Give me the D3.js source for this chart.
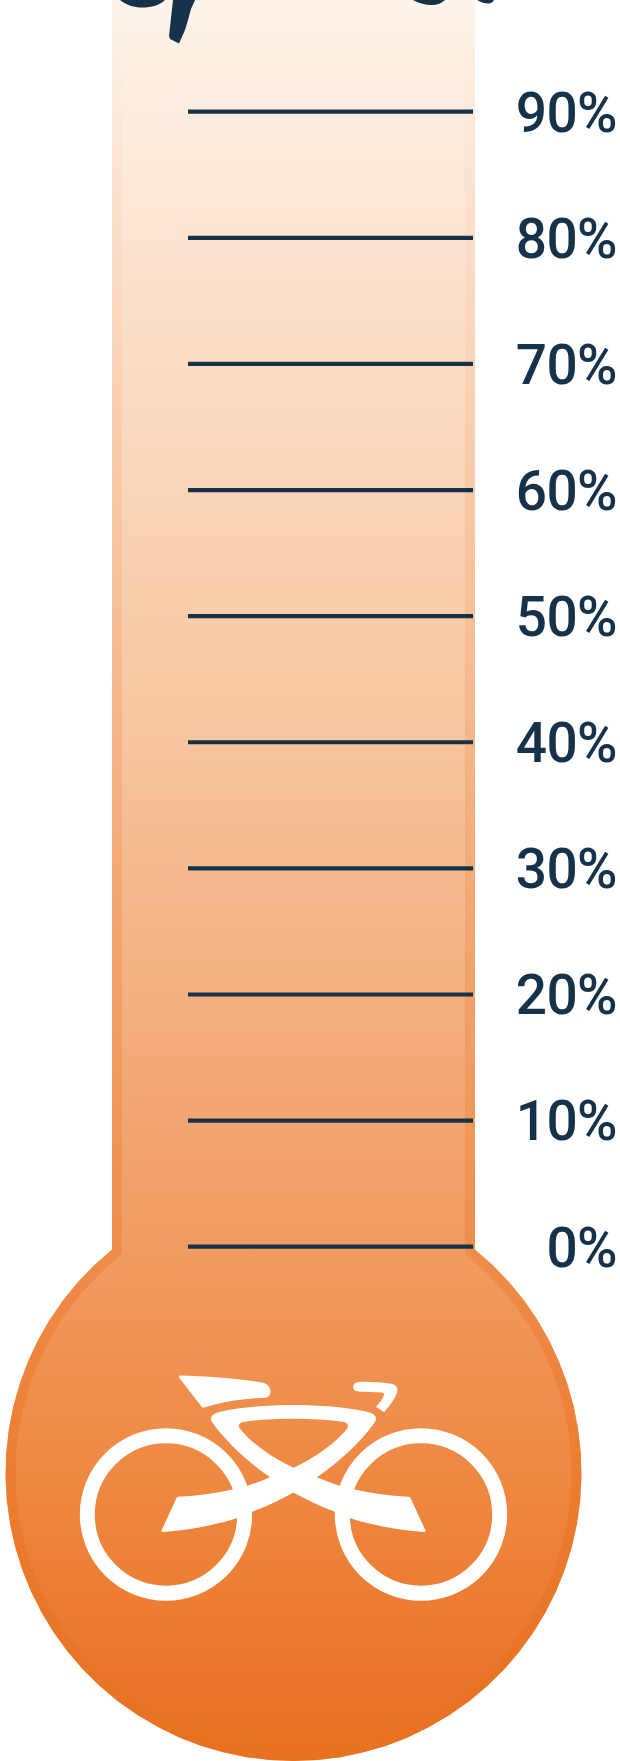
<!DOCTYPE html>
<html>
<head>
<meta charset="utf-8">
<script src="https://cdnjs.cloudflare.com/ajax/libs/d3/7.8.5/d3.min.js"></script>
<style>
  html, body { margin: 0; padding: 0; background: #fff; }
  svg { display: block; }
  .scale text { font-family: Roboto, sans-serif; font-size: 55px; font-weight: 500; letter-spacing: -0.6px; fill: #16324a; }
</style>
</head>
<body>
<div id="chart"></div>
<script>
var width = 620, height = 1761;

// percentage scale printed next to the tube
var tickValues = [0, 10, 20, 30, 40, 50, 60, 70, 80, 90];

// fill of the thermometer, top to bottom
var fillOffsets = [0, 0.17, 0.38, 0.57, 0.73, 0.86, 0.96, 1];
var fillColors = ["#fef4ea", "#fce0cb", "#f8caa6", "#f4af7f", "#f1985d", "#ee853c", "#ea7429", "#e8701f"];

// darker rim, fades out towards the top
var rimOffsets = [0, 0.17, 0.68, 0.85, 1];
var rimOpacity = [0, 0.07, 0.3, 0.5, 0.5];

var ink = "#16324a";

var tubeLeft = 112, tubeRight = 475,
  bulbX = (tubeLeft + tubeRight) / 2, bulbY = 1473, bulbR = 288,
  bulbSteps = 60;

var svg = d3.select("#chart").append("svg")
  .attr("width", width)
  .attr("height", height);

var y = d3.scaleLinear().domain([0, 90]).range([1246.2, 111.2]);

var defs = svg.append("defs");

var addGradient = function (id, offsets, stopper) {
  var g = defs.append("linearGradient")
    .attr("id", id)
    .attr("gradientUnits", "userSpaceOnUse")
    .attr("x1", 0).attr("y1", 0)
    .attr("x2", 0).attr("y2", height);
  offsets.forEach(function (o, i) {
    stopper(g.append("stop").attr("offset", o), i);
  });
};

addGradient("thermoFill", fillOffsets, function (s, i) {
  s.attr("stop-color", fillColors[i]);
});
addGradient("thermoRim", rimOffsets, function (s, i) {
  s.attr("stop-color", "#e8721f").attr("stop-opacity", rimOpacity[i]);
});

// outline: straight tube plus a slightly faceted bulb
var half = bulbX - tubeLeft,
  startAngle = Math.asin(half / bulbR),
  outline = [[tubeLeft, -20]];
d3.range(bulbSteps + 1).forEach(function (i) {
  var a = startAngle + (2 * Math.PI - 2 * startAngle) * i / bulbSteps;
  // a runs from the left junction, round the bottom, to the right one
  outline.push([bulbX - bulbR * Math.sin(a), bulbY - bulbR * Math.cos(a)]);
});
outline.push([tubeRight, -20]);

var outlinePath = d3.line()(outline) + "Z";

defs.append("clipPath").attr("id", "thermoClip")
  .append("path").attr("d", outlinePath);

svg.append("path")
  .attr("d", outlinePath)
  .attr("fill", "url(#thermoFill)");

svg.append("path")
  .attr("d", outlinePath)
  .attr("fill", "none")
  .attr("stroke", "url(#thermoRim)")
  .attr("stroke-width", 20)
  .attr("clip-path", "url(#thermoClip)");

// bottoms of the hand lettered title, cut off by the top of the picture
var titleBits = [
  "M120 0 C126 5 134 7.5 142 7.5 C152 7.5 160 5 165 0 Z",
  "M173 0 L195 0 L191 9 L188 20 L185 30 L179 43.5 L170 39 L169 36 Z",
  "M413 0 C419 3.5 426 5 431 5 C437 5 442 3 445 0 Z",
  "M477 0 C481 2.5 485 3.5 488 3.5 C491 3.5 493 2 494 0 Z"
];
svg.append("g").selectAll("path")
  .data(titleBits)
  .join("path")
  .attr("d", function (d) { return d; })
  .attr("fill", ink);

// scale lines and labels
var axis = d3.axisRight(y)
  .tickValues(tickValues)
  .tickSize(-285)
  .tickFormat(function (d) { return d + "%"; });

var scale = svg.append("g")
  .attr("class", "scale")
  .attr("transform", "translate(473,0)")
  .call(axis);

scale.select(".domain").remove();
scale.selectAll(".tick line")
  .attr("stroke", ink)
  .attr("stroke-width", 4.2);
scale.selectAll(".tick text")
  .attr("x", 144)
  .attr("dy", "0.36em")
  .attr("text-anchor", "end");

// bicycle icon
var bike = svg.append("g").attr("fill", "#fff");

bike.selectAll("circle")
  .data([166, 421])
  .join("circle")
  .attr("cx", function (d) { return d; })
  .attr("cy", 1514.5)
  .attr("r", 78.7)
  .attr("fill", "none")
  .attr("stroke", "#fff")
  .attr("stroke-width", 15);

// saddle
bike.append("path")
  .attr("d", "M180 1375.5 C208 1376 238 1378.5 263 1382.7 C272 1384.5 273 1397 265 1397.7"
    + " C244 1398.5 224 1401 204 1407.6 Q202.5 1408 201.5 1406.5 L179 1377.5 Q178.5 1375.5 180 1375.5 Z");

// handlebar
bike.append("path")
  .attr("d", "M358.5 1382 C368 1381.5 380 1382.5 390 1383.5 C396 1384.3 398.5 1388 397 1392.5"
    + " C394.5 1400 389 1406.5 384 1412.3 L376 1406.7 C379.5 1403 383 1399 384 1395"
    + " Q384.5 1392.8 381.5 1392.6 L358 1391.4 C351 1391 352 1382.5 358.5 1382 Z");

// frame and rear stay, left half, mirrored for the right
var frameHalf = "M294 1405 C268 1405 242 1407 220 1411.7 Q208 1414.5 212 1422"
  + " C226 1442 248 1462 270 1477.3 C262 1481 254 1483.5 247 1486"
  + " C225 1492 200 1496 178.3 1496.7 Q176.5 1497 176 1499 L161.5 1530.5 Q161 1532 163 1532"
  + " C190 1530 215 1525 236.7 1518.3 L252.3 1511.7 C268 1506 282 1499 294 1492.3"
  + " L294 1468 C272 1458 250 1442 239.5 1428 Q237.5 1423.5 243 1422"
  + " C258 1419.5 276 1418.7 294 1418.7 Z";

bike.selectAll("path.frame")
  .data(["", "translate(587,0) scale(-1,1)"])
  .join("path")
  .attr("class", "frame")
  .attr("d", frameHalf)
  .attr("transform", function (d) { return d; });
</script>
</body>
</html>
